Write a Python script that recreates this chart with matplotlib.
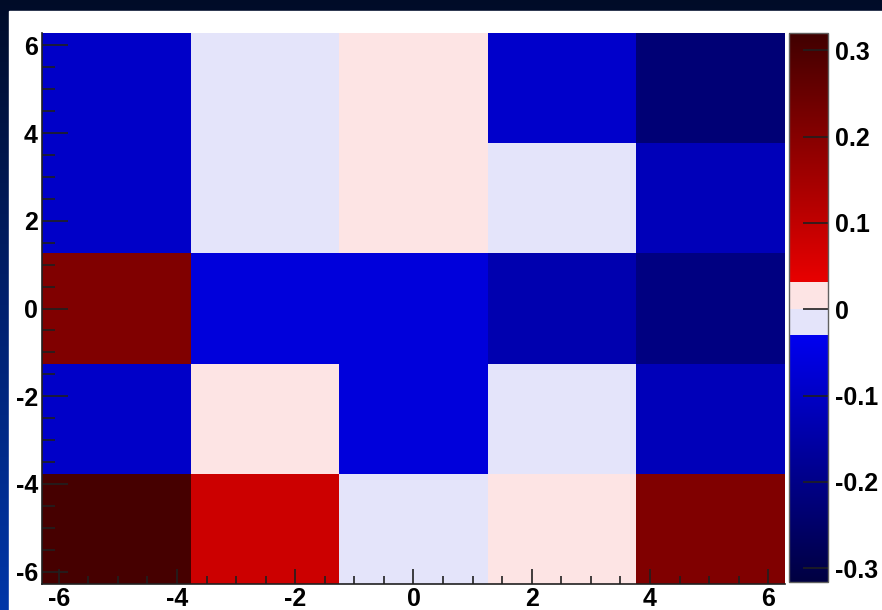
import numpy as np
import matplotlib.pyplot as plt
from matplotlib.colors import LinearSegmentedColormap, Normalize
from matplotlib.patches import Rectangle
from matplotlib.ticker import MultipleLocator

# bin edges (5x5 histogram on [-2pi, 2pi])
x_edges = np.linspace(-2*np.pi, 2*np.pi, 6)
y_edges = np.linspace(-2*np.pi, 2*np.pi, 6)

# cell contents, bottom row first
z_row0 = [0.31, 0.08, -0.01, 0.01, 0.21]
z_row1 = [-0.095, 0.01, -0.065, -0.01, -0.12]
z_row2 = [0.21, -0.065, -0.065, -0.135, -0.21]
z_row3 = [-0.095, -0.01, 0.01, -0.01, -0.12]
z_row4 = [-0.095, -0.01, 0.01, -0.09, -0.23]

x_ticks = [-6, -4, -2, 0, 2, 4, 6]
y_ticks = [-6, -4, -2, 0, 2, 4, 6]
cb_ticks = [-0.3, -0.2, -0.1, 0.0, 0.1, 0.2, 0.3]
cb_labels = ["-0.3", "-0.2", "-0.1", "0", "0.1", "0.2", "0.3"]

zmin, zmax = -0.316, 0.32

z = np.array([z_row0, z_row1, z_row2, z_row3, z_row4])

# blue - white - red palette with the white band around zero
def pos(v):
	return (v - zmin) / (zmax - zmin)

eps = 1e-4
cmap = LinearSegmentedColormap.from_list("bwr_root", [
	(0.0, "#000040"),
	(pos(-0.03), "#0000f0"),
	(pos(-0.03) + eps, "#e4e4fa"),
	(pos(0.0), "#e4e4fa"),
	(pos(0.0) + eps, "#fde4e4"),
	(pos(0.032), "#fde4e4"),
	(pos(0.032) + eps, "#e80000"),
	(1.0, "#400000"),
], N=1024)

plt.rcParams['font.family'] = ['Liberation Sans', 'DejaVu Sans']
plt.rcParams['font.weight'] = 'bold'
fs = 18

fig = plt.figure(figsize=(8.82, 6.10), dpi=100)

# slide background
bg = fig.add_axes([0, 0, 1, 1], zorder=-10)
grad = np.linspace(0, 1, 256).reshape(-1, 1)
bgcmap = LinearSegmentedColormap.from_list("slide", ["#000c28", "#00206e", "#0036a8"])
bg.imshow(grad, aspect='auto', cmap=bgcmap, extent=[0, 1, 0, 1], origin='upper')
bg.add_patch(Rectangle((9/882, 0), 1, 1 - 11/610, color="white", transform=bg.transAxes))
bg.set_xlim(0, 1)
bg.set_ylim(0, 1)
bg.axis('off')

ax = fig.add_axes([42/882, 1 - 584/610, (785 - 42)/882, (584 - 33)/610])
norm = Normalize(vmin=zmin, vmax=zmax)
mesh = ax.pcolormesh(x_edges, y_edges, z, cmap=cmap, norm=norm)
ax.set_xlim(x_edges[0], x_edges[-1])
ax.set_ylim(y_edges[0], y_edges[-1])

ax.set_xticks(x_ticks)
ax.set_yticks(y_ticks)
ax.set_xticklabels([str(t) for t in x_ticks])
ax.set_yticklabels([str(t) for t in y_ticks])
ax.xaxis.set_minor_locator(MultipleLocator(0.5))
ax.yaxis.set_minor_locator(MultipleLocator(0.5))
ax.tick_params(axis='x', which='major', direction='in', length=11, width=1.2, color="#202020", labelsize=fs, pad=2)
ax.tick_params(axis='x', which='minor', direction='in', length=5.5, width=1.2, color="#202020")
ax.tick_params(axis='y', which='major', direction='in', length=19, width=1.2, color="#202020", labelsize=fs, pad=3)
ax.tick_params(axis='y', which='minor', direction='in', length=9.5, width=1.2, color="#202020")
for s in ["top", "right"]:
	ax.spines[s].set_visible(False)
for s in ["left", "bottom"]:
	ax.spines[s].set_color("#202020")
	ax.spines[s].set_linewidth(1.2)

# colour scale
cax = fig.add_axes([789/882, 1 - 582/610, (828 - 789)/882, (582 - 33)/610])
cb = fig.colorbar(mesh, cax=cax)
cb.set_ticks(cb_ticks)
cb.set_ticklabels(cb_labels)
cb.ax.tick_params(direction='in', length=18, width=1.2, color="#202020", labelsize=fs, pad=5)
cb.outline.set_edgecolor("#606060")
cb.outline.set_linewidth(1.0)

plt.savefig("out.png", dpi=100)
